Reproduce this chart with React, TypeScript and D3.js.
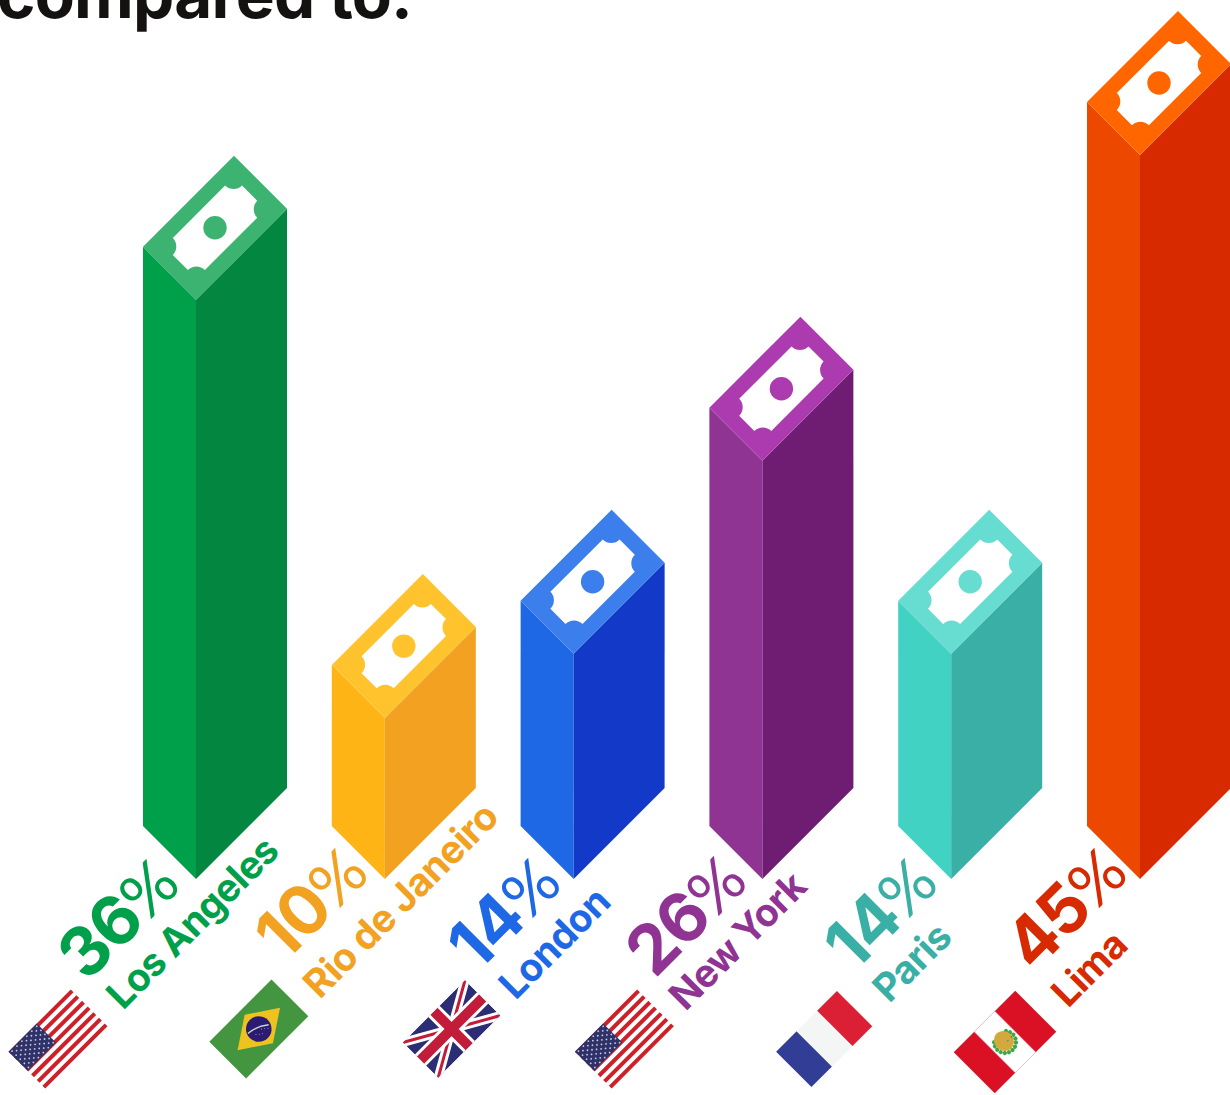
import React from "react";
import * as d3 from "d3";

const cities = ["Los Angeles", "Rio de Janeiro", "London", "New York", "Paris", "Lima"];
const shares = [36, 10, 14, 26, 14, 45];
const flagCodes = ["us", "br", "uk", "us", "fr", "pe"];

const leftColors = ["#00A04B", "#FFB416", "#1E68E6", "#8F3492", "#41D2C3", "#ED4800"];
const rightColors = ["#038640", "#F2A120", "#1239C8", "#6E1D72", "#39AFA6", "#D72A00"];
const topColors = ["#3DB371", "#FFC32D", "#3C7FEC", "#AB3BAF", "#67DCD1", "#FF6600"];
const labelColors = ["#00A04B", "#F2A120", "#1E68E6", "#8F3492", "#39AFA6", "#D72A00"];

// label and flag placement, measured against each bar's left edge
const pctAnchor = [[39, 888], [39, 877], [43, 887], [40, 885], [42, 887], [43, 877]];
const nameAnchor = [[-20, 1011], [-12, 1000], [-5, 1001], [-24, 1012], [-9, 1004], [-19, 1009]];
const flagCenter = [[-85, 1039], [-73, 1029], [-69, 1029], [-85, 1039], [-74, 1039], [-82, 1042]];

const WIDTH = 1230;
const HEIGHT = 1095;
const BASE_Y = 826;
const FRONT = 53; // front-left edge of the box, both axes
const SIDE_X = 91;
const SIDE_Y = 91;
const FONT = "Inter, 'Open Sans', sans-serif";

const x = d3.scalePoint<string>().domain(cities).range([143, 1087]);
const h = d3.scaleLinear().domain([0, 45]).range([0, 724]);

const poly = (pts: [number, number][]) => d3.line()(pts) + "Z";

// banknote outline with the corners bitten out
function billPath(w: number, hh: number, r: number) {
  const p = d3.path();
  p.moveTo(-w + r, -hh);
  p.lineTo(w - r, -hh);
  p.arc(w, -hh, r, Math.PI, Math.PI / 2, true);
  p.lineTo(w, hh - r);
  p.arc(w, hh, r, -Math.PI / 2, Math.PI, true);
  p.lineTo(-w + r, hh);
  p.arc(-w, hh, r, 0, -Math.PI / 2, true);
  p.lineTo(-w, -hh + r);
  p.arc(-w, -hh, r, Math.PI / 2, 0, true);
  p.closePath();
  return p.toString();
}

function Bar({ i }: { i: number }) {
  const city = cities[i];
  const left = x(city) as number;
  const mid = left + FRONT;
  const right = mid + SIDE_X;
  const tall = h(shares[i]);
  const yl = BASE_Y - tall;
  const yf = yl + FRONT;
  const yr = yf - SIDE_Y;
  const yb = yl - SIDE_Y;
  const cx = (left + right) / 2;
  const cy = (yl + yr) / 2;
  return (
    <g>
      <path fill={leftColors[i]} d={poly([[left, yl], [mid, yf], [mid, BASE_Y + FRONT], [left, BASE_Y]])} />
      <path fill={rightColors[i]} d={poly([[mid, yf], [right, yr], [right, BASE_Y + FRONT - SIDE_Y], [mid, BASE_Y + FRONT]])} />
      <path fill={topColors[i]} d={poly([[left, yl], [left + SIDE_X, yb], [right, yr], [mid, yf]])} />
      <g transform={`translate(${cx},${cy}) rotate(-45)`}>
        <path fill="#fff" d={billPath(49, 22.7, 12)} />
        <circle r={11.7} fill={topColors[i]} />
      </g>
    </g>
  );
}

function Label({ i }: { i: number }) {
  const left = x(cities[i]) as number;
  const [px, py] = pctAnchor[i];
  const [nx, ny] = nameAnchor[i];
  return (
    <g fill={labelColors[i]} fontFamily={FONT}>
      <text transform={`translate(${left + px},${py}) rotate(-45)`} textAnchor="end" fontSize={68} letterSpacing={-1.5}>
        <tspan fontWeight={700}>{shares[i]}</tspan>
        <tspan fontWeight={400} fontFamily="Lato, sans-serif" fontSize={64}>%</tspan>
      </text>
      <text transform={`translate(${left + nx},${ny}) rotate(-45)`} fontSize={38.5} fontWeight={700} letterSpacing={-0.7}>
        {cities[i]}
      </text>
    </g>
  );
}

function UsFlag() {
  const stripes = d3.range(7);
  const rows = d3.range(9);
  return (
    <g>
      {stripes.map((s) => (
        <rect key={s} x={-44} y={-26 + s * 8} width={88} height={4} fill="#CE2028" />
      ))}
      <rect x={-44} y={-26} width={40} height={27} fill="#2F3268" />
      {rows.map((r) =>
        d3.range(r % 2 ? 5 : 6).map((c) => (
          <circle key={`${r}-${c}`} cx={-41 + c * 7 + (r % 2 ? 3.5 : 0)} cy={-24 + r * 2.9} r={0.9} fill="#C9CBDD" />
        )),
      )}
    </g>
  );
}

function BrFlag() {
  return (
    <g>
      <rect x={-44} y={-26} width={88} height={52} fill="#43963F" />
      <path fill="#EFC31F" d={poly([[-30, 0], [0, -20], [30, 0], [0, 20]])} />
      <circle r={12.8} fill="#2C1B72" />
      <path d="M-11,-4.5 Q0,-4 10,4" fill="none" stroke="#C8DCC8" strokeWidth={1.3} />
      {d3.range(6).map((k) => (
        <circle key={k} cx={-6 + k * 2.6} cy={2 + (k % 3) * 2} r={0.4} fill="#fff" />
      ))}
    </g>
  );
}

function UkFlag() {
  return (
    <g>
      <clipPath id="uk-clip">
        <rect x={-44} y={-25} width={88} height={50} />
      </clipPath>
      <g clipPath="url(#uk-clip)">
        <rect x={-44} y={-25} width={88} height={50} fill="#2B2E74" />
        <path d="M-44,-25L44,25M44,-25L-44,25" stroke="#fff" strokeWidth={9} />
        <path d="M-44,-25L44,25M44,-25L-44,25" stroke="#C21C3A" strokeWidth={3} />
        <path d="M0,-25V25M-44,0H44" stroke="#fff" strokeWidth={16} />
        <path d="M0,-25V25M-44,0H44" stroke="#C21C3A" strokeWidth={10} />
      </g>
    </g>
  );
}

function FrFlag() {
  return (
    <g>
      <rect x={-43} y={-25} width={29} height={50} fill="#323E96" />
      <rect x={-14} y={-25} width={29} height={50} fill="#F4F6F6" />
      <rect x={15} y={-25} width={28} height={50} fill="#DB1F35" />
    </g>
  );
}

function PeFlag() {
  // wreath leaves around the lower part of the crest
  const leaves = d3.range(50, 320, 22).map((deg) => (deg * Math.PI) / 180);
  return (
    <g>
      <rect x={-43.5} y={-29} width={87} height={58} fill="#DA1125" />
      <rect x={-14.5} y={-29} width={29} height={58} fill="#fff" stroke="#F5B8C0" strokeWidth={0.5} />
      {leaves.map((a) => (
        <circle key={a} cx={11 * Math.sin(a)} cy={-11 * Math.cos(a)} r={2.1} fill="#3FA648" />
      ))}
      <ellipse cy={-1.5} rx={9.5} ry={10.5} fill="#D2A93A" />
      <circle cx={3} cy={1} r={0.8} fill="#3C8FC0" />
      <circle cx={8} cy={1} r={0.8} fill="#D8392B" />
    </g>
  );
}

const flagComponents: Record<string, React.FC> = { us: UsFlag, br: BrFlag, uk: UkFlag, fr: FrFlag, pe: PeFlag };

export default function App() {
  return (
    <svg
      width={WIDTH}
      height={HEIGHT}
      viewBox={`0 0 ${WIDTH} ${HEIGHT}`}
      style={{ position: "absolute", left: 0, top: 0, display: "block", background: "#fff" }}
    >
      <text x={-3} y={17.5} fontFamily={FONT} fontSize={65.5} fontWeight={700} fill="#141210" letterSpacing={-0.8}>
        compared to.
      </text>
      {cities.map((c, i) => (
        <Bar key={c} i={i} />
      ))}
      {cities.map((c, i) => (
        <Label key={c} i={i} />
      ))}
      {cities.map((c, i) => {
        const Flag = flagComponents[flagCodes[i]];
        const [fx, fy] = flagCenter[i];
        return (
          <g key={c} transform={`translate(${(x(c) as number) + fx},${fy}) rotate(-45)`}>
            <Flag />
          </g>
        );
      })}
    </svg>
  );
}
